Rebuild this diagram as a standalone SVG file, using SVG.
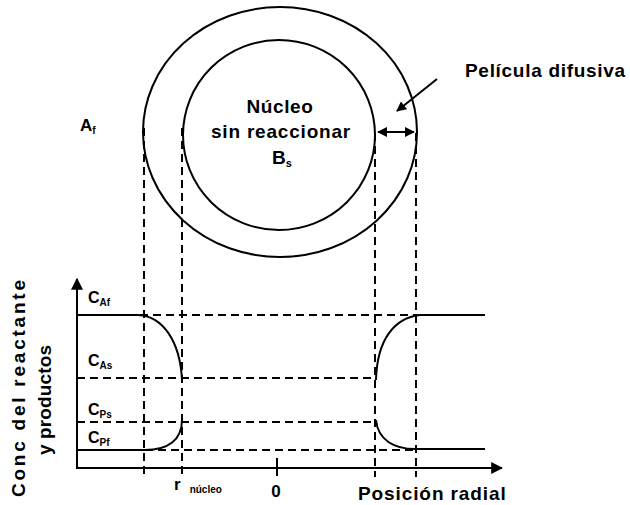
<svg xmlns="http://www.w3.org/2000/svg" width="630" height="505" viewBox="0 0 630 505">
<defs>
<style>
.t{font-family:"Liberation Sans",Arial,sans-serif;font-weight:bold;fill:#000}
.s{fill:none;stroke:#000;stroke-width:2}
.d{fill:none;stroke:#000;stroke-width:2;stroke-dasharray:8 5}
</style>
<marker id="ah" viewBox="0 0 10 10" refX="9" refY="5" markerWidth="5" markerHeight="5" orient="auto-start-reverse"><path d="M0,0 L10,5 L0,10 z" fill="#000"/></marker>
<marker id="ax" viewBox="0 0 10 10" refX="9" refY="5" markerWidth="6" markerHeight="6" orient="auto"><path d="M0,0 L10,5 L0,10 z" fill="#000"/></marker>
</defs>
<rect width="630" height="505" fill="#fff"/>
<g id="particle">
<ellipse cx="280" cy="132" rx="137" ry="125" class="s"/>
<ellipse cx="279" cy="135" rx="96" ry="95" class="s"/>
</g>
<g id="labels-top">
<text class="t" x="280" y="113" font-size="19" text-anchor="middle" letter-spacing="0.6">Núcleo</text>
<text class="t" x="281" y="138" font-size="19" text-anchor="middle" letter-spacing="0.8">sin reaccionar</text>
<text class="t" x="272" y="164" font-size="19">B<tspan font-size="11" dy="3">s</tspan></text>
<text class="t" x="80" y="131" font-size="17">A<tspan font-size="10" dy="3">f</tspan></text>
<text class="t" x="465" y="77" font-size="19" letter-spacing="0.7">Película difusiva</text>
</g>
<g id="connectors">
<line x1="437" y1="79" x2="397" y2="111" class="s" marker-end="url(#ah)" stroke-width="2.5"/>
<line x1="378" y1="132" x2="414" y2="132" class="s" marker-start="url(#ah)" marker-end="url(#ah)"/>
<line x1="144" y1="128" x2="144" y2="477" class="d"/>
<line x1="182" y1="128" x2="182" y2="477" class="d"/>
<line x1="375" y1="133" x2="375" y2="477" class="d"/>
<line x1="416" y1="133" x2="416" y2="477" class="d"/>
<line x1="140" y1="315" x2="418" y2="315" class="d"/>
<line x1="77" y1="378" x2="376" y2="378" class="d"/>
<line x1="77" y1="422" x2="376" y2="422" class="d"/>
<line x1="145" y1="450" x2="418" y2="450" class="d"/>
</g>
<g id="plot">
<line x1="77" y1="469" x2="77" y2="279" class="s" marker-end="url(#ax)"/>
<line x1="76" y1="468" x2="502" y2="468" class="s" marker-end="url(#ax)"/>
<line x1="277" y1="458" x2="277" y2="476" class="s"/>
<path d="M77,315 H138 C162,316 180,340 182,380" class="s" stroke-width="2.5"/>
<path d="M182,420 C182,440 168,450 145,450 H77" class="s" stroke-width="2.5"/>
<path d="M485,315 H420 C394,318 377,340 376,380" class="s" stroke-width="2.5"/>
<path d="M376,420 C378,440 394,449 415,449 H485" class="s" stroke-width="2.5"/>
</g>
<g id="axis-labels">
<text class="t" x="88" y="303" font-size="16">C<tspan font-size="10" dy="3">Af</tspan></text>
<text class="t" x="88" y="366" font-size="16">C<tspan font-size="10" dy="3">As</tspan></text>
<text class="t" x="88" y="415" font-size="16">C<tspan font-size="10" dy="3">Ps</tspan></text>
<text class="t" x="88" y="443" font-size="16">C<tspan font-size="10" dy="3">Pf</tspan></text>
<text class="t" x="174" y="490" font-size="17">r<tspan font-size="10" dx="9" dy="3">núcleo</tspan></text>
<text class="t" x="276" y="497" font-size="17" text-anchor="middle">0</text>
<text class="t" x="358" y="500" font-size="19" letter-spacing="0.9">Posición radial</text>
<text class="t" transform="translate(25,497) rotate(-90)" font-size="19" textLength="217" lengthAdjust="spacing">Conc del reactante</text>
<text class="t" transform="translate(51,455) rotate(-90)" font-size="19" textLength="110" lengthAdjust="spacing">y productos</text>
</g>
</svg>
